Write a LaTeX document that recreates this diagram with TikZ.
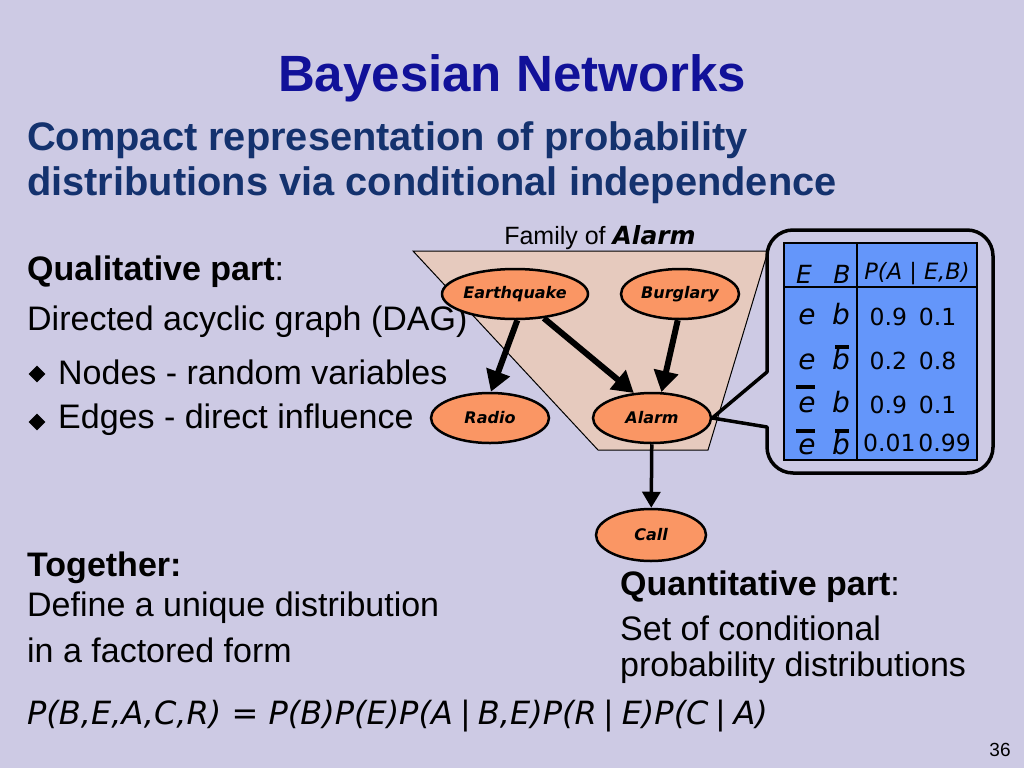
\documentclass[tikz,border=0pt]{standalone}
\usepackage{fontspec}
\setmainfont{Liberation Sans}
\newfontfamily\comicfont{DejaVu Sans}
\usetikzlibrary{shapes.geometric,arrows.meta}
\definecolor{bnback}{RGB}{205,202,228}
\definecolor{bntitle}{RGB}{17,17,153}
\definecolor{bnsub}{RGB}{20,50,110}
\definecolor{bnfamily}{RGB}{230,202,190}
\definecolor{bnorange}{RGB}{250,150,100}
\definecolor{bntable}{RGB}{100,150,250}

\begin{document}
\begin{tikzpicture}[x=1pt, y=-1pt,
  varnode/.style={ellipse, draw, line width=2.5pt, fill=bnorange,
    minimum width=118pt, minimum height=50pt, inner sep=0pt,
    font=\comicfont\bfseries\itshape\fontsize{16}{18}\selectfont},
  edge/.style={line width=6pt, -{Triangle[length=21pt,width=24pt]}},
  body/.style={anchor=west, inner sep=0pt, font=\fontsize{34}{38}\selectfont},
  cell/.style={inner sep=0pt, font=\comicfont\fontsize{23.5}{26}\selectfont},
  evar/.style={inner sep=0pt, font=\comicfont\itshape\fontsize{28}{30}\selectfont},
  bullet/.style={diamond, fill=black, inner sep=0pt, minimum size=17pt},
  bar/.style={line width=3.5pt}
]
% Background
\fill[bnback] (0,0) rectangle (1024,768);
\useasboundingbox (0,0) rectangle (1024,768);

% Titles
\node[text=bntitle, font=\bfseries\fontsize{51}{56}\selectfont] (title) at (512,78) {Bayesian Networks};
\node[text=bnsub, anchor=west, inner sep=0pt, font=\bfseries\fontsize{39.8}{45}\selectfont] (sub1) at (27,140) {Compact representation of probability};
\node[text=bnsub, anchor=west, inner sep=0pt, font=\bfseries\fontsize{39.8}{45}\selectfont] (sub2) at (27,185) {distributions via conditional independence};

% Qualitative part
\node[body] (qual) at (27,272) {\textbf{Qualitative part}:};
\node[body] (dag) at (27,322) {Directed acyclic graph (DAG)};
\node[bullet] (dot1) at (37,374) {};
\node[body] (nodes) at (58,372) {Nodes - random variables};
\node[bullet] (dot2) at (37,422) {};
\node[body] (edges) at (58,420) {Edges - direct influence};

% Family of Alarm
\fill[bnfamily, draw=black, line width=1pt] (413,251) -- (768,251) -- (708,450) -- (598,450) -- cycle;
\node[font=\fontsize{25}{28}\selectfont] (famlabel) at (600,238) {Family of {\comicfont\bfseries\itshape Alarm}};

% Variables
\node[varnode] (eq) at (515,294) {Earthquake};
\node[varnode] (burg) at (680,294) {Burglary};
\node[varnode] (radio) at (490,418) {Radio};
\node[varnode] (alarm) at (652,418) {Alarm};
\node[varnode, minimum width=110pt, minimum height=52pt] (call) at (651,535) {Call};

% Edges
\draw[edge] (eq.-85) -- (radio.88);
\draw[edge] (eq.-40) -- (alarm.126);
\draw[edge] (burg.-95) -- (alarm.70);
\draw[line width=3.5pt, -{Triangle[length=16pt,width=18pt]}] (alarm) -- (call);

% CPT callout
\draw[line width=3.5pt, line join=round] (767,372) [rounded corners=26pt] -- (767,230) -- (993,230) -- (993,473) -- (767,473) [sharp corners] -- (767,427) -- (alarm.east) -- cycle;
\fill[bntable, draw=black, line width=2pt] (784,243) rectangle (977,460);
\draw[line width=2.5pt] (857,243) -- (857,460);
\draw[line width=2.5pt] (784,287) -- (977,287);

\node[inner sep=0pt, font=\comicfont\itshape\fontsize{25}{27}\selectfont] (hE) at (804,274) {E};
\node[inner sep=0pt, font=\comicfont\itshape\fontsize{25}{27}\selectfont] (hB) at (842,274) {B};
\node[inner sep=0pt, font=\comicfont\itshape\fontsize{22.5}{25}\selectfont] (hP) at (917,274) {P(A | E,B)};

\node[evar] (e1) at (807,317) {e};
\node[evar] (b1) at (841,314) {b};
\node[cell] (v1) at (913,317) {0.9\hspace{12pt}0.1};
\node[evar] (e2) at (807,362) {e};
\node[evar] (b2) at (841,359) {b};
\node[cell] (v2) at (913,361) {0.2\hspace{12pt}0.8};
\node[evar] (e3) at (807,405) {e};
\node[evar] (b3) at (841,402) {b};
\node[cell] (v3) at (913,405) {0.9\hspace{12pt}0.1};
\node[evar] (e4) at (807,447) {e};
\node[evar] (b4) at (841,444) {b};
\node[cell] (v4) at (917,443) {0.01\hspace{3pt}0.99};

% Negation bars
\draw[bar] (835,347) -- (849,347);
\draw[bar] (796,387) -- (815,387);
\draw[bar] (796,431) -- (815,431);
\draw[bar] (835,431) -- (849,431);

% Together
\node[body] (tog) at (27,568) {\textbf{Together:}};
\node[body] (def1) at (27,608) {Define a unique distribution};
\node[body] (def2) at (27,650) {in a factored form};

% Quantitative part
\node[body] (quant) at (620,587) {\textbf{Quantitative part}:};
\node[body] (set1) at (620,628) {Set of conditional};
\node[body] (set2) at (620,668) {probability distributions};

% Factorisation
\node[anchor=west, inner sep=0pt, font=\comicfont\itshape\fontsize{32}{35}\selectfont] (formula) at (27,716)
  {P(B,E,A,C,R) = P(B)P(E)P(A\:{\upshape|}\:B,E)P(R\:{\upshape|}\:E)P(C\:{\upshape|}\:A)};

% Slide number
\node[font=\fontsize{19}{21}\selectfont] (pagenum) at (1000,750) {36};
\end{tikzpicture}
\end{document}
